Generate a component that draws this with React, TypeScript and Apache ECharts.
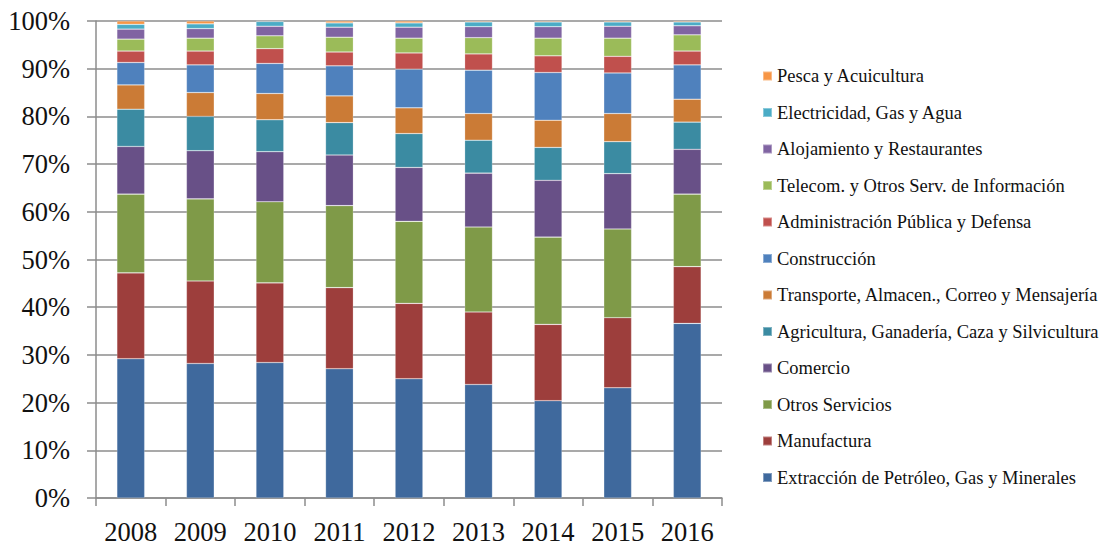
import React, { useEffect, useRef } from "react";
import * as echarts from "echarts";

const years = ["2008", "2009", "2010", "2011", "2012", "2013", "2014", "2015", "2016"];

const extraccion = [29.2, 28.2, 28.4, 27.1, 25.0, 23.8, 20.4, 23.1, 36.6];
const manufactura = [18.0, 17.3, 16.7, 17.0, 15.8, 15.2, 16.0, 14.7, 11.9];
const otrosServicios = [16.5, 17.2, 17.0, 17.2, 17.2, 17.8, 18.3, 18.6, 15.2];
const comercio = [10.0, 10.1, 10.5, 10.6, 11.3, 11.3, 11.9, 11.6, 9.4];
const agricultura = [7.8, 7.2, 6.7, 6.8, 7.1, 6.9, 6.9, 6.7, 5.7];
const transporte = [5.1, 5.0, 5.5, 5.6, 5.4, 5.6, 5.7, 5.9, 4.8];
const construccion = [4.7, 5.8, 6.3, 6.3, 8.1, 9.1, 10.0, 8.5, 7.2];
const administracion = [2.4, 2.9, 3.1, 2.9, 3.4, 3.4, 3.5, 3.5, 2.9];
const telecom = [2.5, 2.7, 2.7, 3.1, 3.1, 3.4, 3.7, 3.8, 3.4];
const alojamiento = [2.1, 2.0, 2.0, 2.1, 2.3, 2.3, 2.4, 2.5, 1.9];
const electricidad = [1.0, 1.0, 1.0, 0.9, 0.9, 1.0, 1.0, 0.9, 0.8];
const pesca = [0.7, 0.6, 0.1, 0.4, 0.4, 0.2, 0.2, 0.2, 0.2];

const yTicks = [0, 10, 20, 30, 40, 50, 60, 70, 80, 90, 100];

const seriesDefs = [
  { name: "Extracción de Petróleo, Gas y Minerales", data: extraccion, color: "#3F699D" },
  { name: "Manufactura", data: manufactura, color: "#9D3E3C" },
  { name: "Otros Servicios", data: otrosServicios, color: "#7F9A48" },
  { name: "Comercio", data: comercio, color: "#685087" },
  { name: "Agricultura, Ganadería, Caza y Silvicultura", data: agricultura, color: "#3B8BA2" },
  { name: "Transporte, Almacen., Correo y Mensajería", data: transporte, color: "#CB7B36" },
  { name: "Construcción", data: construccion, color: "#4F81BD" },
  { name: "Administración Pública y Defensa", data: administracion, color: "#C0504D" },
  { name: "Telecom. y Otros Serv. de Información", data: telecom, color: "#9BBB59" },
  { name: "Alojamiento y Restaurantes", data: alojamiento, color: "#8064A2" },
  { name: "Electricidad, Gas y Agua", data: electricidad, color: "#4BACC6" },
  { name: "Pesca y Acuicultura", data: pesca, color: "#F79646" },
];

const FONT = "Liberation Serif";

export default function App() {
  const ref = useRef<HTMLDivElement>(null);
  useEffect(() => {
    if (!ref.current) return;
    const chart = echarts.init(ref.current, null, { renderer: "svg" });
    chart.setOption({
      animation: false,
      backgroundColor: "#ffffff",
      grid: { left: 96, right: 381, top: 21, bottom: 47, containLabel: false },
      legend: {
        orient: "vertical",
        left: 757,
        top: 61,
        itemWidth: 9,
        itemHeight: 9,
        itemGap: 16.5,
        icon: "rect",
        data: seriesDefs.map((s) => s.name).reverse(),
        textStyle: { fontFamily: FONT, fontSize: 18.5, color: "#111", lineHeight: 20 },
      },
      xAxis: {
        type: "category",
        data: years,
        axisLine: { lineStyle: { color: "#8c8c8c", width: 1.5 } },
        axisTick: { show: true, length: 8, lineStyle: { color: "#8c8c8c", width: 1.5 } },
        axisLabel: { fontFamily: FONT, fontSize: 26.5, color: "#111", margin: 20 },
      },
      yAxis: {
        type: "value",
        min: yTicks[0],
        max: yTicks[yTicks.length - 1],
        interval: 10,
        axisLine: { show: true, lineStyle: { color: "#8c8c8c", width: 1.5 } },
        axisTick: { show: true, length: 9, lineStyle: { color: "#8c8c8c", width: 1.5 } },
        splitLine: { show: true, lineStyle: { color: "#8c8c8c", width: 1.5 } },
        axisLabel: { fontFamily: FONT, fontSize: 26.5, color: "#111", margin: 26, formatter: "{value}%" },
      },
      series: seriesDefs.map((s) => ({
        name: s.name,
        type: "bar",
        stack: "total",
        barWidth: "40%",
        data: s.data,
        itemStyle: { color: s.color, borderColor: "rgba(255,255,255,0.35)", borderWidth: 0.6 },
      })),
    });
    return () => chart.dispose();
  }, []);
  return <div ref={ref} style={{ width: 1103, height: 545, position: "absolute", left: 0, top: 0 }} />;
}
